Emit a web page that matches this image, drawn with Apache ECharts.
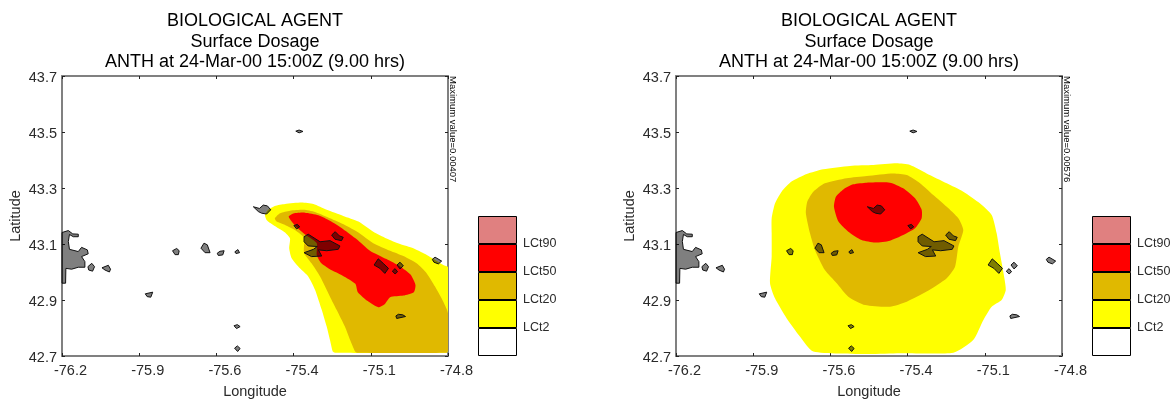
<!DOCTYPE html>
<html><head><meta charset="utf-8">
<style>html,body{margin:0;padding:0;background:#fff}#c{width:1175px;height:400px}</style>
<script src="https://cdn.jsdelivr.net/npm/echarts@6/dist/echarts.min.js"></script>
</head><body><div id="c"></div>
<script>
const titleLines = ['BIOLOGICAL AGENT','Surface Dosage','ANTH at 24-Mar-00 15:00Z (9.00 hrs)'];
const maxLabels = ['Maximum value=0.00407','Maximum value=0.00576'];
const lonTicks = [-76.2,-75.92,-75.64,-75.36,-75.08,-74.8];
const latTicks = [42.7,42.9,43.1,43.3,43.5,43.7];
const legendLabels = ['LCt2','LCt20','LCt50','LCt90'];
const legendColors = ['#ffffff','#ffff00','#e0b900','#ff0000','#e08080'];

const leftYellow = [[-75.464,43.204],[-75.452,43.222],[-75.428,43.236],[-75.391,43.243],[-75.331,43.248],[-75.288,43.243],[-75.240,43.222],[-75.180,43.200],[-75.125,43.180],[-75.071,43.144],[-75.023,43.120],[-74.974,43.100],[-74.926,43.085],[-74.883,43.064],[-74.847,43.043],[-74.817,43.025],[-74.80,43.017],[-74.80,42.72],[-74.805,42.712],[-75.21,42.712],[-75.218,42.716],[-75.228,42.757],[-75.240,42.805],[-75.258,42.865],[-75.282,42.936],[-75.307,42.984],[-75.337,43.013],[-75.367,43.049],[-75.376,43.085],[-75.373,43.120],[-75.391,43.141],[-75.434,43.168],[-75.458,43.186]];
const leftGold = [[-75.428,43.192],[-75.409,43.210],[-75.373,43.219],[-75.319,43.222],[-75.276,43.212],[-75.228,43.192],[-75.174,43.168],[-75.125,43.141],[-75.071,43.103],[-75.010,43.076],[-74.962,43.057],[-74.914,43.031],[-74.877,42.995],[-74.847,42.948],[-74.817,42.894],[-74.80,42.853],[-74.80,42.72],[-74.805,42.712],[-75.13,42.712],[-75.137,42.716],[-75.155,42.757],[-75.174,42.805],[-75.204,42.865],[-75.228,42.912],[-75.264,42.984],[-75.295,43.031],[-75.322,43.067],[-75.322,43.097],[-75.319,43.120],[-75.355,43.150],[-75.391,43.168],[-75.421,43.180]];
const leftRed = [[-75.378,43.197],[-75.361,43.209],[-75.319,43.212],[-75.270,43.203],[-75.228,43.183],[-75.180,43.153],[-75.131,43.117],[-75.083,43.076],[-75.023,43.046],[-74.974,43.020],[-74.936,42.991],[-74.918,42.954],[-74.924,42.928],[-74.962,42.916],[-75.010,42.910],[-75.029,42.886],[-75.053,42.874],[-75.091,42.896],[-75.127,42.928],[-75.136,42.958],[-75.182,42.987],[-75.230,43.011],[-75.260,43.032],[-75.276,43.061],[-75.276,43.103],[-75.315,43.132],[-75.351,43.162]];
const rightYellow = [[-75.853,43.192],[-75.841,43.245],[-75.817,43.287],[-75.781,43.323],[-75.726,43.350],[-75.666,43.367],[-75.569,43.379],[-75.484,43.382],[-75.400,43.388],[-75.351,43.382],[-75.291,43.352],[-75.218,43.317],[-75.158,43.287],[-75.097,43.245],[-75.055,43.204],[-75.037,43.138],[-75.025,43.067],[-75.010,42.984],[-75.004,42.936],[-75.019,42.900],[-75.055,42.876],[-75.085,42.829],[-75.122,42.757],[-75.194,42.712],[-75.388,42.710],[-75.508,42.707],[-75.702,42.716],[-75.750,42.769],[-75.799,42.835],[-75.841,42.906],[-75.859,42.960],[-75.853,43.055],[-75.853,43.138]];
const rightGold = [[-75.729,43.210],[-75.724,43.251],[-75.702,43.287],[-75.660,43.317],[-75.581,43.335],[-75.508,43.343],[-75.412,43.352],[-75.363,43.346],[-75.315,43.317],[-75.267,43.275],[-75.218,43.233],[-75.176,43.192],[-75.158,43.150],[-75.176,43.091],[-75.188,43.019],[-75.218,42.978],[-75.291,42.930],[-75.363,42.894],[-75.424,42.876],[-75.514,42.882],[-75.575,42.912],[-75.617,42.960],[-75.660,43.007],[-75.696,43.079],[-75.714,43.138]];
const rightRed = [[-75.627,43.233],[-75.620,43.269],[-75.593,43.295],[-75.557,43.313],[-75.508,43.319],[-75.424,43.319],[-75.376,43.299],[-75.333,43.263],[-75.309,43.222],[-75.309,43.192],[-75.333,43.156],[-75.376,43.132],[-75.424,43.112],[-75.478,43.105],[-75.527,43.114],[-75.575,43.144],[-75.611,43.180]];
const towns = [
[[-76.200,43.141],[-76.177,43.148],[-76.161,43.136],[-76.141,43.135],[-76.141,43.126],[-76.159,43.126],[-76.173,43.134],[-76.177,43.109],[-76.173,43.081],[-76.141,43.073],[-76.129,43.088],[-76.108,43.079],[-76.105,43.065],[-76.129,43.055],[-76.117,43.037],[-76.117,43.017],[-76.141,43.017],[-76.165,43.010],[-76.186,43.013],[-76.187,42.960],[-76.200,42.960]],
[[-76.106,43.019],[-76.092,43.031],[-76.082,43.019],[-76.089,43.003],[-76.103,43.007]],
[[-76.055,43.015],[-76.032,43.024],[-76.024,43.010],[-76.028,43.000],[-76.044,43.007]],
[[-75.898,42.922],[-75.871,42.928],[-75.878,42.910],[-75.891,42.912]],
[[-75.799,43.076],[-75.784,43.084],[-75.775,43.076],[-75.778,43.062],[-75.790,43.062]],
[[-75.696,43.085],[-75.685,43.103],[-75.673,43.097],[-75.663,43.069],[-75.681,43.069]],
[[-75.637,43.067],[-75.627,43.074],[-75.612,43.076],[-75.617,43.061],[-75.633,43.059]],
[[-75.573,43.072],[-75.562,43.080],[-75.556,43.069],[-75.569,43.066]],
[[-75.576,42.808],[-75.564,42.812],[-75.554,42.805],[-75.567,42.798]],
[[-75.574,42.728],[-75.564,42.736],[-75.554,42.727],[-75.563,42.716]],
[[-75.352,43.503],[-75.340,43.507],[-75.326,43.502],[-75.340,43.497]],
[[-75.506,43.233],[-75.484,43.227],[-75.470,43.239],[-75.455,43.236],[-75.443,43.222],[-75.458,43.207],[-75.476,43.210],[-75.488,43.216]],
[[-75.359,43.166],[-75.346,43.170],[-75.338,43.161],[-75.349,43.154]],
[[-75.322,43.126],[-75.307,43.135],[-75.264,43.108],[-75.228,43.112],[-75.192,43.093],[-75.198,43.081],[-75.240,43.076],[-75.270,43.079],[-75.258,43.057],[-75.295,43.055],[-75.322,43.069],[-75.288,43.081],[-75.274,43.091],[-75.307,43.093],[-75.322,43.108]],
[[-75.222,43.132],[-75.209,43.144],[-75.194,43.129],[-75.180,43.124],[-75.186,43.112],[-75.210,43.117]],
[[-75.068,43.025],[-75.053,43.047],[-75.035,43.031],[-75.016,43.013],[-75.029,42.995],[-75.047,43.013]],
[[-75.002,43.003],[-74.992,43.012],[-74.983,43.001],[-74.992,42.993]],
[[-74.985,43.025],[-74.974,43.035],[-74.962,43.022],[-74.974,43.011]],
[[-74.857,43.045],[-74.847,43.053],[-74.823,43.039],[-74.835,43.029],[-74.851,43.035]],
[[-74.989,42.843],[-74.980,42.849],[-74.964,42.847],[-74.954,42.841],[-74.986,42.834]]
];

const LINE = '#808080', TXT = '#2a2a2a', FONT = '"Liberation Sans", Arial, sans-serif';

function contour(points, color, g){
  return {type:'custom', xAxisIndex:g*2, yAxisIndex:g*2, silent:true, animation:false, clip:true, z:2,
    data:points,
    renderItem:(p,api)=> p.dataIndex!==0 ? null : {type:'polygon',
      shape:{points:points.map(q=>api.coord(q)),smooth:0.2}, style:{fill:color, stroke:null}}};
}
function townSeries(g){
  return {type:'custom', xAxisIndex:g*2, yAxisIndex:g*2, silent:true, animation:false, clip:false, z:3,
    data:towns.map(t=>t[0]),
    renderItem:(p,api)=>({type:'polygon', shape:{points:towns[p.dataIndex].map(q=>api.coord(q))},
      style:{fill:'rgba(0,0,0,0.5)', stroke:'#111', lineWidth:1}})};
}
function axes(g){
  const common = {min:0,max:1,type:'value',splitLine:{show:false},gridIndex:g,
    axisLine:{show:true,onZero:false,lineStyle:{color:LINE,width:2}}};
  const tick = v=>({show:true,inside:true,length:3,customValues:v,lineStyle:{color:'#222',width:1}});
  const label = (v,m,extra)=>({show:true,customValues:v,color:TXT,fontSize:14.5,fontFamily:FONT,hideOverlap:false,margin:m,
      showMinLabel:true,showMaxLabel:true,formatter:x=>x.toFixed(1),...extra});
  return {
    x:[{...common,min:-76.2,max:-74.8,position:'bottom',axisTick:tick(lonTicks),axisLabel:label(lonTicks,7,{padding:[0,0,0,17]}),
        name:'Longitude',nameLocation:'middle',nameGap:28,nameTextStyle:{color:TXT,fontSize:14.5,fontFamily:FONT}},
       {...common,min:-76.2,max:-74.8,position:'top',axisTick:tick(lonTicks),axisLabel:{show:false}}],
    y:[{...common,min:42.7,max:43.7,position:'left',axisTick:tick(latTicks),axisLabel:label(latTicks,5,{verticalAlign:'top',lineHeight:4}),
        name:'Latitude',nameLocation:'middle',nameGap:39,nameTextStyle:{color:TXT,fontSize:14.5,fontFamily:FONT}},
       {...common,min:42.7,max:43.7,position:'right',axisTick:tick(latTicks),axisLabel:{show:false}}]
  };
}
const a0 = axes(0), a1 = axes(1);
const legendAxis = g=>({
  x:{type:'category',gridIndex:g,data:[''],axisLine:{show:false},axisTick:{show:false},axisLabel:{show:false}},
  y:{type:'value',gridIndex:g,min:0,max:5,position:'right',splitLine:{show:false},axisLine:{show:false},axisTick:{show:false},
    axisLabel:{show:true,customValues:[1,2,3,4],color:TXT,fontSize:12.5,fontFamily:FONT,margin:6,
      formatter:v=>legendLabels[v-1]}}
});
const l0 = legendAxis(2), l1 = legendAxis(3);
const legendSeries = (xi,yi,st)=>legendColors.map(c=>({type:'bar',xAxisIndex:xi,yAxisIndex:yi,stack:st,data:[1],
  barWidth:'100%',silent:true,animation:false,itemStyle:{color:c,borderColor:'#000',borderWidth:1}}));

const chart = echarts.init(document.getElementById('c'),null,{renderer:'canvas'});
const makeTitle = (cxp)=>({text:titleLines.join('\n'),left:cxp,top:11,padding:0,textAlign:'center',
  textStyle:{fontFamily:FONT,fontWeight:'normal',fontSize:18,lineHeight:20.5,color:'#000'}});
const maxText = (x,t)=>({type:'text',x:x,y:76,rotation:-Math.PI/2,silent:true,
  style:{text:t,fill:'#000',font:'9.5px '+FONT,textAlign:'left',textVerticalAlign:'top'}});
const G = {outerBoundsMode:'none',containLabel:false};
chart.setOption({
  animation:false,
  backgroundColor:'#fff',
  title:[makeTitle(255),makeTitle(869)],
  grid:[{...G,left:62,top:76,width:386,height:280},{...G,left:676,top:76,width:386,height:280},
        {...G,left:478,top:216,width:39,height:140},{...G,left:1092,top:216,width:39,height:140}],
  xAxis:[...a0.x,...a1.x,l0.x,l1.x],
  yAxis:[...a0.y,...a1.y,l0.y,l1.y],
  graphic:[maxText(458,maxLabels[0]),maxText(1072,maxLabels[1])],
  series:[
    contour(leftYellow,'#ffff00',0),contour(leftGold,'#e0b900',0),contour(leftRed,'#ff0000',0),townSeries(0),
    contour(rightYellow,'#ffff00',1),contour(rightGold,'#e0b900',1),contour(rightRed,'#ff0000',1),townSeries(1),
    ...legendSeries(4,4,'a'),...legendSeries(5,5,'b')
  ]
});
</script></body></html>
